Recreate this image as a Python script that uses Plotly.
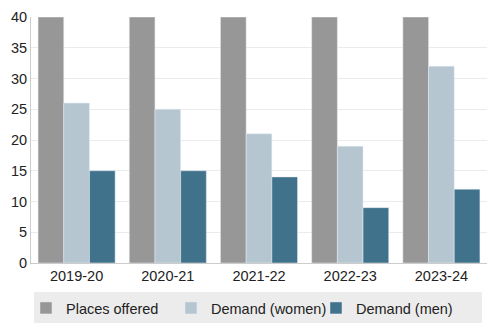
import plotly.graph_objects as go

years = ["2019-20", "2020-21", "2021-22", "2022-23", "2023-24"]
places_offered = [40, 40, 40, 40, 40]
demand_women = [26, 25, 21, 19, 32]
demand_men = [15, 15, 14, 9, 12]

fig = go.Figure()
fig.add_bar(x=years, y=places_offered, name="Places offered", marker_color="#979797")
fig.add_bar(x=years, y=demand_women, name="Demand (women)", marker_color="#b5c6d0")
fig.add_bar(x=years, y=demand_men, name="Demand (men)", marker_color="#41728b")

# legend background panel
fig.add_shape(type="rect", xref="paper", yref="paper",
              x0=0.0066, x1=0.989, y0=-0.244, y1=-0.118,
              fillcolor="#ececec", line_width=0, layer="below")

fig.update_layout(
    width=494, height=334,
    margin=dict(l=31, r=7, t=17, b=71),
    barmode="group", bargap=0.155, bargroupgap=0,
    plot_bgcolor="white", paper_bgcolor="white",
    font=dict(family="Liberation Sans, Arial, sans-serif", size=14.5, color="#222"),
    legend=dict(orientation="h", x=-0.011, xanchor="left", y=-0.118, yanchor="top",
                bgcolor="rgba(0,0,0,0)", entrywidth=100, font=dict(size=14.5),
                itemwidth=30),
    showlegend=True,
)
fig.update_yaxes(range=[0, 40], dtick=5, showgrid=True, gridcolor="#ebebeb",
                 showline=True, linecolor="#cccccc", linewidth=1, ticks="",
                 zeroline=False)
fig.update_xaxes(showline=True, linecolor="#cccccc", linewidth=1, ticks="")

fig.write_html("out.html")
